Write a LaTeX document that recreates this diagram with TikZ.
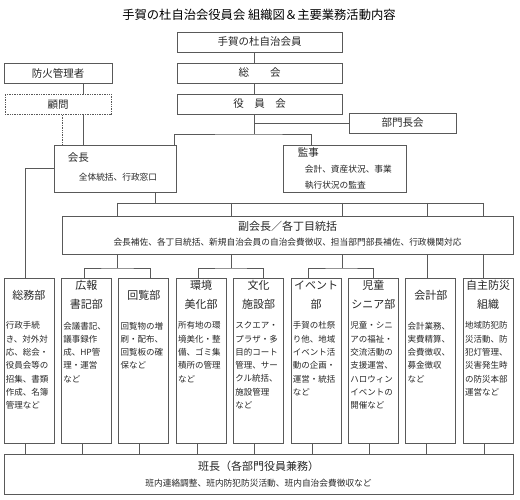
\documentclass[tikz,border=0pt]{standalone}
\usepackage{fontspec}
\setmainfont{Noto Sans CJK JP}

\begin{document}
\begin{tikzpicture}[
			x=1pt, y=-1pt,
			every node/.style = {font=\fontsize{10.5}{12}\selectfont, text=black!85},
			box/.style    = {draw=black!65, line width=0.7pt, minimum height=20pt, inner sep=0pt},
			dept/.style   = {draw=black!65, line width=0.7pt, minimum width=50pt, minimum height=165pt, inner sep=0pt},
			dtitle/.style = {align=center, inner sep=0pt, font=\fontsize{11}{19}\selectfont},
			dbody/.style  = {anchor=north west, align=left, inner sep=0pt, font=\fontsize{8.5}{13.3}\selectfont},
			note/.style   = {inner sep=0pt, font=\fontsize{8.7}{16}\selectfont},
			head/.style   = {inner sep=0pt, font=\fontsize{11}{13}\selectfont},
			link/.style   = {draw=black!65, line width=0.7pt}
			]
			\useasboundingbox (0,0) rectangle (520,500);
			
			%--- title ---
			\node[font=\fontsize{12.3}{14}\selectfont, text=black] (title) at (259,15) {手賀の杜自治会役員会 組織図＆主要業務活動内容};
			
			%--- upper boxes ---
			\node[box, minimum width=165pt] (member) at (259.5,42)  {手賀の杜自治会員};
			\node[box, minimum width=165pt] (soukai) at (259.5,73)  {総　　会};
			\node[box, minimum width=165pt] (yakuin) at (259.5,104) {役　員　会};
			\node[box, minimum width=108pt] (bouka)  at (58,73)     {防火管理者};
			\node[box, minimum width=106pt, densely dotted] (komon) at (58,104.5) {顧問};
			\node[box, minimum width=107pt] (bumon)  at (402.5,123) {部門長会};
			
			\node[box, minimum width=122pt, minimum height=47pt] (kaicho) at (115,168.5) {};
			\node[anchor=west, inner sep=0pt] (kaicho-t) at ([xshift=14pt,yshift=-13pt]kaicho.north west) {会長};
			\node[anchor=west, note] (kaicho-d) at ([xshift=25pt,yshift=-33pt]kaicho.north west) {全体統括、行政窓口};
			
			\node[box, minimum width=123pt, minimum height=47pt] (kanji) at (344.5,168.5) {};
			\node[anchor=west, inner sep=0pt] (kanji-t) at ([xshift=15pt,yshift=-8pt]kanji.north west) {監事};
			\node[anchor=west, note, align=left] (kanji-d) at ([xshift=22pt,yshift=-33pt]kanji.north west) {会計、資産状況、事業\\執行状況の監査};
			
			\node[box, minimum width=451pt, minimum height=38pt] (fuku) at (287.5,235) {};
			\node[head] (fuku-t) at ([yshift=-11pt]fuku.north) {副会長／各丁目統括};
			\node[note] (fuku-d) at ([yshift=-27pt]fuku.north) {会長補佐、各丁目統括、新規自治会員の自治会費徴収、担当部門部長補佐、行政機関対応};
			
			%--- departments ---
			\foreach \i/\nm/\ttl/\bdy in {
				0/somu/{総務部}/{行政手続\\き、対外対\\応、総会・\\役員会等の\\招集、書類\\作成、名簿\\管理など},
				1/kohou/{広報\\書記部}/{会議書記、\\議事録作\\成、HP管\\理・運営\\など},
				2/kairan/{回覧部}/{回覧物の増\\刷・配布、\\回覧板の確\\保など},
				3/kankyo/{環境\\美化部}/{所有地の環\\境美化・整\\備、ゴミ集\\積所の管理\\など},
				4/bunka/{文化\\施設部}/{スクエア・\\プラザ・多\\目的コート\\管理、サー\\クル統括、\\施設管理\\など},
				5/event/{イベント\\部}/{手賀の杜祭\\り他、地域\\イベント活\\動の企画・\\運営・統括\\など},
				6/jido/{児童\\シニア部}/{児童・シニ\\アの福祉・\\交流活動の\\支援運営、\\ハロウィン\\イベントの\\開催など},
				7/kaikei/{会計部}/{会計業務、\\実費精算、\\会費徴収、\\募金徴収\\など},
				8/jishu/{自主防災\\組織}/{地域防犯防\\災活動、防\\犯灯管理、\\災害発生時\\の防災本部\\運営など}}
			{
				\node[dept] (\nm) at ({29+57.4*\i},360.5) {};
				\node[dtitle] (\nm-t) at ([yshift=-17.5pt]\nm.north) {\ttl};
				\node[dbody] (\nm-d) at ([xshift=2pt,yshift=-44pt]\nm.north west) {\bdy};
			}
			
			\node[box, minimum width=509pt, minimum height=40pt] (han) at (258.5,474) {};
			\node[head] (han-t) at ([yshift=-13pt]han.north) {班長（各部門役員兼務）};
			\node[note] (han-d) at ([yshift=-30pt]han.north) {班内連絡調整、班内防犯防災活動、班内自治会費徴収など};
			
			%--- guide points ---
			\coordinate (xy) at (254.5,0);
			\coordinate (xk) at (83,0);
			\coordinate (xd) at (62,0);
			\coordinate (xs) at (25,0);
			\coordinate (xa) at (174,0);
			\coordinate (xb) at (311,0);
			\coordinate (j1) at (254.5,134);
			\coordinate (bus) at (155,203);
			\coordinate (c1) at (117.5,268);
			\coordinate (c2) at (231,268);
			\coordinate (c3) at (342,268);
			\coordinate (c4) at (427,268);
			\coordinate (c5) at (483,268);
			
			%--- connectors ---
			\draw[link] (xy |- member.south) -- (xy |- soukai.north);
			\draw[link] (xy |- soukai.south) -- (xy |- yakuin.north);
			\draw[link] (xy |- yakuin.south) -- (j1);
			\draw[link] (xy |- bumon.west) -- (bumon.west);
			\draw[link] (xa |- kaicho.north) |- (j1) -| (xb |- kanji.north);
			
			\draw[link] (xk |- bouka.south) -- (xk |- komon.north);
			\draw[link] (xk |- komon.south) -- (xk |- kaicho.north);
			\draw[link, densely dotted] (xd |- komon.south) -- (xd |- kaicho.north);
			
			\draw[link] (kaicho.west) -| (xs |- somu.north);
			
			\draw[link] (bus |- kaicho.south) -- (bus);
			\draw[link] (c1 |- bus) -- (c5 |- bus);
			\foreach \c in {c1,c2,c3,c4,c5}
				\draw[link] (\c |- bus) -- (\c |- fuku.north);
			
			\draw[link] (c1 |- fuku.south) -- (c1);
			\draw[link] (c2 |- fuku.south) -- (c2);
			\draw[link] (c3 |- fuku.south) -- (c3);
			\draw[link] ([xshift=-2.4pt]kohou.north) |- (c1) -| ([xshift=6.2pt]kairan.north);
			\draw[link] ([xshift=-3.2pt]kankyo.north) |- (c2) -| ([xshift=4.4pt]bunka.north);
			\draw[link] ([xshift=-8pt]event.north) |- (c3) -| ([xshift=-0.4pt]jido.north);
			\draw[link] (c4 |- fuku.south) -- (c4 |- kaikei.north);
			\draw[link] (c5 |- fuku.south) -- (c5 |- jishu.north);
			
			\foreach \nm in {somu,kohou,kairan,kankyo,bunka,event,jido,kaikei,jishu}{
				\path ([xshift=-4pt]\nm.south) coordinate (\nm-b);
				\draw[link] (\nm-b) -- (\nm-b |- han.north);
			}
		\end{tikzpicture}
\end{document}
